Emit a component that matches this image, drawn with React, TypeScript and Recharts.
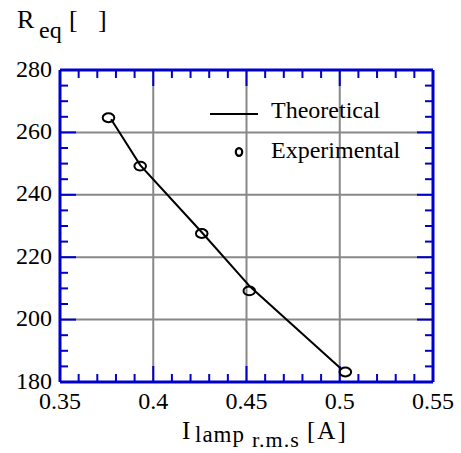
import React from 'react';
import { ScatterChart, Scatter, XAxis, YAxis, CartesianGrid, Legend } from 'recharts';

// axis ticks
const X_TICKS = [0.35, 0.4, 0.45, 0.5, 0.55];
const X_MAJOR_INNER = [0.4, 0.45, 0.5];
const X_MINOR = [0.36, 0.37, 0.38, 0.39, 0.41, 0.42, 0.43, 0.44, 0.46, 0.47, 0.48, 0.49, 0.51, 0.52, 0.53, 0.54];
const Y_TICKS = [180, 200, 220, 240, 260, 280];
const Y_MAJOR_INNER = [200, 220, 240, 260];
const Y_MINOR = [185, 190, 195, 205, 210, 215, 225, 230, 235, 245, 250, 255, 265, 270, 275];

// series
const SERIES_NAMES = ['Theoretical', 'Experimental'];
const THEO_CURRENT = [0.3774, 0.393, 0.426, 0.452, 0.501];
const THEO_REQ = [264.2, 249.5, 228, 210.5, 184.1];
const EXP_CURRENT = [0.376, 0.393, 0.426, 0.4515, 0.503];
const EXP_REQ = [264.7, 249.2, 227.6, 209.2, 183.2];

const theoData = THEO_CURRENT.map((x, i) => ({ x, y: THEO_REQ[i] }));
const expData = EXP_CURRENT.map((x, i) => ({ x, y: EXP_REQ[i] }));

const BLUE = '#0000cc';
const FONT = 'Liberation Serif';
const serif = { fontFamily: FONT };
const tickStyle = { fontSize: 24, fill: '#000', style: serif };
const innerTick = { stroke: BLUE, strokeWidth: 2 };
const X_DOMAIN: [number, number] = [0.35, 0.55];
const Y_DOMAIN: [number, number] = [180, 280];
const THIN = 0.01; // tick-only axes take (almost) no room

const Ring = (props: any) => (
  <ellipse cx={props.cx} cy={props.cy} rx={5.8} ry={4.4} fill="none" stroke="#000" strokeWidth={2} />
);
const NoShape = () => <g />;
const NoLabel = () => <g />;

const LegendBox = () => (
  <svg width={240} height={70} style={{ display: 'block', overflow: 'visible' }}>
    <line x1={5} y1={18} x2={53} y2={18} stroke="#000" strokeWidth={2} />
    <text x={66} y={22.3} style={serif} fontSize={24} fill="#000">{SERIES_NAMES[0]}</text>
    <ellipse cx={34} cy={56} rx={3.2} ry={3.8} fill="none" stroke="#000" strokeWidth={2.2} />
    <text x={66} y={62.3} style={serif} fontSize={24} fill="#000">{SERIES_NAMES[1]}</text>
  </svg>
);

export default function App() {
  return (
    <div style={{ position: 'absolute', left: 0, top: 0, width: 461, height: 453, background: '#fff' }}>
      <ScatterChart width={461} height={453} margin={{ top: 70, right: 28, bottom: 0, left: 0 }}>
        <CartesianGrid stroke="#888" strokeWidth={2} />
        {/* inward ticks on all four sides (declared first so they sit on the plot edge) */}
        <XAxis xAxisId="bMaj" dataKey="x" type="number" domain={X_DOMAIN} ticks={X_MAJOR_INNER} allowDataOverflow interval={0}
          orientation="bottom" mirror height={THIN} tick={NoLabel} tickSize={16} axisLine={false} tickLine={innerTick} />
        <XAxis xAxisId="bMin" dataKey="x" type="number" domain={X_DOMAIN} ticks={X_MINOR} allowDataOverflow interval={0}
          orientation="bottom" mirror height={THIN} tick={NoLabel} tickSize={8} axisLine={false} tickLine={innerTick} />
        <XAxis xAxisId="tMaj" dataKey="x" type="number" domain={X_DOMAIN} ticks={X_MAJOR_INNER} allowDataOverflow interval={0}
          orientation="top" mirror height={THIN} tick={NoLabel} tickSize={16} axisLine={{ stroke: BLUE, strokeWidth: 3 }} tickLine={innerTick} />
        <XAxis xAxisId="tMin" dataKey="x" type="number" domain={X_DOMAIN} ticks={X_MINOR} allowDataOverflow interval={0}
          orientation="top" mirror height={THIN} tick={NoLabel} tickSize={8} axisLine={false} tickLine={innerTick} />
        <YAxis yAxisId="lMaj" dataKey="y" type="number" domain={Y_DOMAIN} ticks={Y_MAJOR_INNER} allowDataOverflow interval={0}
          orientation="left" mirror width={THIN} tick={NoLabel} tickSize={16} axisLine={false} tickLine={innerTick} />
        <YAxis yAxisId="lMin" dataKey="y" type="number" domain={Y_DOMAIN} ticks={Y_MINOR} allowDataOverflow interval={0}
          orientation="left" mirror width={THIN} tick={NoLabel} tickSize={8} axisLine={false} tickLine={innerTick} />
        <YAxis yAxisId="rMaj" dataKey="y" type="number" domain={Y_DOMAIN} ticks={Y_MAJOR_INNER} allowDataOverflow interval={0}
          orientation="right" mirror width={THIN} tick={NoLabel} tickSize={16} axisLine={{ stroke: BLUE, strokeWidth: 3 }} tickLine={innerTick} />
        <YAxis yAxisId="rMin" dataKey="y" type="number" domain={Y_DOMAIN} ticks={Y_MINOR} allowDataOverflow interval={0}
          orientation="right" mirror width={THIN} tick={NoLabel} tickSize={8} axisLine={false} tickLine={innerTick} />
        <XAxis
          type="number"
          dataKey="x"
          domain={X_DOMAIN}
          ticks={X_TICKS}
          allowDataOverflow
          interval={0}
          height={71}
          tickLine={false}
          tickSize={0}
          tickMargin={10}
          axisLine={{ stroke: BLUE, strokeWidth: 3 }}
          tick={tickStyle}
        />
        <YAxis
          type="number"
          dataKey="y"
          domain={Y_DOMAIN}
          ticks={Y_TICKS}
          allowDataOverflow
          interval={0}
          width={60}
          tickLine={false}
          tickSize={0}
          tickMargin={8}
          axisLine={{ stroke: BLUE, strokeWidth: 3 }}
          tick={{ ...tickStyle, dy: -2 }}
        />
        {/* invisible carriers so the tick-only axes get a scale */}
        <Scatter xAxisId="bMaj" yAxisId="lMaj" data={expData} shape={NoShape} legendType="none" isAnimationActive={false} />
        <Scatter xAxisId="bMin" yAxisId="lMin" data={expData} shape={NoShape} legendType="none" isAnimationActive={false} />
        <Scatter xAxisId="tMaj" yAxisId="rMaj" data={expData} shape={NoShape} legendType="none" isAnimationActive={false} />
        <Scatter xAxisId="tMin" yAxisId="rMin" data={expData} shape={NoShape} legendType="none" isAnimationActive={false} />
        <Scatter
          name={SERIES_NAMES[0]}
          data={theoData}
          line={{ stroke: '#000', strokeWidth: 2 }}
          lineType="joint"
          shape={NoShape}
          isAnimationActive={false}
        />
        <Scatter name={SERIES_NAMES[1]} data={expData} shape={Ring} isAnimationActive={false} />
        <Legend
          layout="vertical"
          align="center"
          verticalAlign="middle"
          wrapperStyle={{ left: 205, top: 96, width: 240, height: 70 }}
          content={() => <LegendBox />}
        />
      </ScatterChart>
      <svg width={461} height={453} style={{ position: 'absolute', left: 0, top: 0, pointerEvents: 'none' }}>
        <g fill="#000">
          <text x={17} y={28} fontSize={26} style={serif}>R</text>
          <text x={39} y={37.5} fontSize={24} style={serif}>eq</text>
          <text x={69} y={28} fontSize={26} style={serif}>[</text>
          <text x={98} y={28} fontSize={26} style={serif}>]</text>
          <text x={182} y={439} fontSize={25} style={serif}>I</text>
          <text x={195} y={442} fontSize={23} letterSpacing={1} style={serif}>lamp</text>
          <text x={252} y={447} fontSize={22} letterSpacing={1} style={serif}>r.m.s</text>
          <text x={307} y={439} fontSize={25} letterSpacing={2} style={serif}>[A]</text>
        </g>
      </svg>
    </div>
  );
}
